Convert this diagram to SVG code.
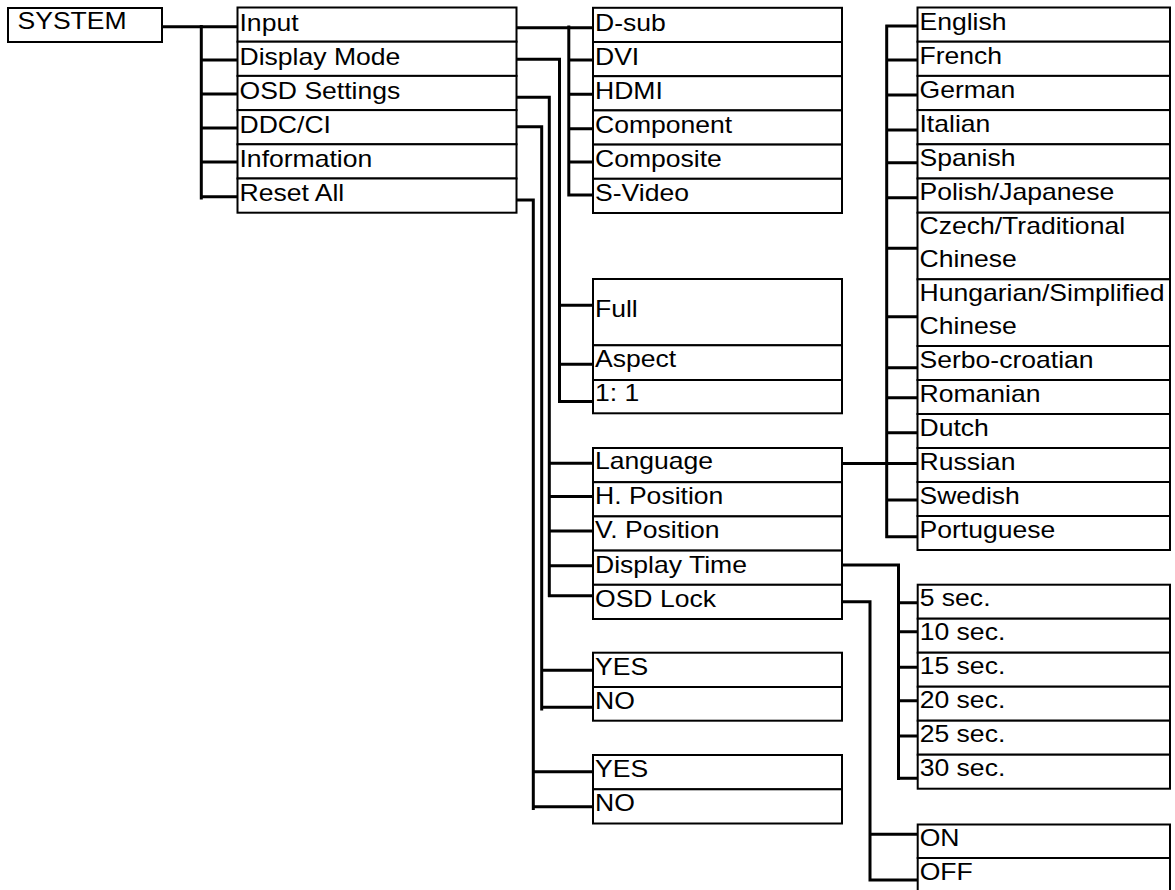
<svg xmlns="http://www.w3.org/2000/svg" width="1175" height="890" viewBox="0 0 1175 890">
<style>
.b{fill:#fff;stroke:#000;stroke-width:2}
.t{font-family:"Liberation Sans",Arial,sans-serif;font-size:23px;fill:#000;transform-box:fill-box;transform-origin:0 0;transform:scaleX(1.155)}
.c{fill:none;stroke:#000;stroke-width:3}
</style>
<rect width="1175" height="890" fill="#fff"/>
<g id="connectors" class="c">
<path d="M162 26.7H237.5M201.3 25V199.5M201.3 60H237.5M201.3 94H237.5M201.3 128H237.5M201.3 162H237.5M201.3 196.7H237.5"/>
<path d="M517 27.7H593M568.8 25.5V196.5M567.3 60H593M567.3 94.3H593M567.3 128.7H593M567.3 162H593M567.3 195H593"/>
<path d="M516 59.3H559.5V403M558 305.3H593M558 364.3H593M558 401.5H593"/>
<path d="M516 97.3H549.3V597M548 463.3H593M548 496.5H593M548 531H593M548 565.7H593M548 595.7H593"/>
<path d="M516 126.7H541.7V710.5M540.3 670.3H593M540.3 707.3H593"/>
<path d="M515 200H533.3V810M532 771.7H593M532 806.7H593"/>
<path d="M841 463.5H917.5M886.7 25V538M885.3 26H917.5M885.3 60H917.5M885.3 95H917.5M885.3 130H917.5M885.3 162.7H917.5M885.3 197.7H917.5M885.3 248.3H917.5M885.3 316.7H917.5M885.3 367.7H917.5M885.3 397.7H917.5M885.3 432.7H917.5M885.3 500H917.5M885.3 536.7H917.5"/>
<path d="M841 565H898.5V780M897 602.7H917.7M897 631.7H917.7M897 667.3H917.7M897 700.7H917.7M897 736H917.7M897 778.3H917.7"/>
<path d="M841 601.7H870V880H917.7M868.5 834.3H917.7"/>
</g>
<g id="system"><rect class="b" x="8" y="8" width="154" height="34"/><text class="t" x="17.5" y="29.3">SYSTEM</text></g>
<g id="input"><rect class="b" x="237.5" y="7.5" width="279" height="34.2"/><text class="t" x="239.5" y="31">Input</text></g>
<g id="display-mode"><rect class="b" x="237.5" y="41.7" width="279" height="34.2"/><text class="t" x="239.5" y="65">Display Mode</text></g>
<g id="osd-settings"><rect class="b" x="237.5" y="75.9" width="279" height="34.2"/><text class="t" x="239.5" y="99">OSD Settings</text></g>
<g id="ddc-ci"><rect class="b" x="237.5" y="110.1" width="279" height="34.2"/><text class="t" x="239.5" y="133">DDC/CI</text></g>
<g id="information"><rect class="b" x="237.5" y="144.3" width="279" height="34.2"/><text class="t" x="239.5" y="167">Information</text></g>
<g id="reset-all"><rect class="b" x="237.5" y="178.5" width="279" height="34.2"/><text class="t" x="239.5" y="201">Reset All</text></g>
<g id="d-sub"><rect class="b" x="593" y="7.8" width="249" height="34.2"/><text class="t" x="595" y="31.3">D-sub</text></g>
<g id="dvi"><rect class="b" x="593" y="42" width="249" height="34.2"/><text class="t" x="595" y="65.3">DVI</text></g>
<g id="hdmi"><rect class="b" x="593" y="76.2" width="249" height="34.2"/><text class="t" x="595" y="99.3">HDMI</text></g>
<g id="component"><rect class="b" x="593" y="110.4" width="249" height="34.2"/><text class="t" x="595" y="133.5">Component</text></g>
<g id="composite"><rect class="b" x="593" y="144.6" width="249" height="34.2"/><text class="t" x="595" y="167.5">Composite</text></g>
<g id="s-video"><rect class="b" x="593" y="178.8" width="249" height="34.2"/><text class="t" x="595" y="201.5">S-Video</text></g>
<g id="full"><rect class="b" x="593" y="279" width="249" height="66.3"/><text class="t" x="595" y="316.7">Full</text></g>
<g id="aspect"><rect class="b" x="593" y="345.3" width="249" height="34.7"/><text class="t" x="595" y="367">Aspect</text></g>
<g id="one-to-one"><rect class="b" x="593" y="380" width="249" height="33.3"/><text class="t" x="595" y="401">1: 1</text></g>
<g id="language"><rect class="b" x="593" y="448" width="249" height="34.2"/><text class="t" x="595" y="469.3">Language</text></g>
<g id="h-position"><rect class="b" x="593" y="482.2" width="249" height="34.2"/><text class="t" x="595" y="504">H. Position</text></g>
<g id="v-position"><rect class="b" x="593" y="516.4" width="249" height="34.2"/><text class="t" x="595" y="538.5">V. Position</text></g>
<g id="display-time"><rect class="b" x="593" y="550.6" width="249" height="34.2"/><text class="t" x="595" y="573">Display Time</text></g>
<g id="osd-lock"><rect class="b" x="593" y="584.8" width="249" height="34.2"/><text class="t" x="595" y="607">OSD Lock</text></g>
<g id="ddc-yes"><rect class="b" x="593" y="652.7" width="249" height="34.3"/><text class="t" x="595" y="675">YES</text></g>
<g id="ddc-no"><rect class="b" x="593" y="687" width="249" height="33.7"/><text class="t" x="595" y="709">NO</text></g>
<g id="reset-yes"><rect class="b" x="593" y="755" width="249" height="34.3"/><text class="t" x="595" y="777">YES</text></g>
<g id="reset-no"><rect class="b" x="593" y="789.3" width="249" height="34.2"/><text class="t" x="595" y="811">NO</text></g>
<g id="english"><rect class="b" x="917.5" y="7.5" width="252.5" height="34.2"/><text class="t" x="919.5" y="30.5">English</text></g>
<g id="french"><rect class="b" x="917.5" y="41.7" width="252.5" height="34.2"/><text class="t" x="919.5" y="64.5">French</text></g>
<g id="german"><rect class="b" x="917.5" y="75.9" width="252.5" height="34.2"/><text class="t" x="919.5" y="98.5">German</text></g>
<g id="italian"><rect class="b" x="917.5" y="110.1" width="252.5" height="34.2"/><text class="t" x="919.5" y="132.5">Italian</text></g>
<g id="spanish"><rect class="b" x="917.5" y="144.3" width="252.5" height="34.2"/><text class="t" x="919.5" y="166.5">Spanish</text></g>
<g id="polish"><rect class="b" x="917.5" y="178.5" width="252.5" height="34.2"/><text class="t" x="919.5" y="200.5">Polish/Japanese</text></g>
<g id="czech"><rect class="b" x="917.5" y="212.7" width="252.5" height="66.6"/><text class="t" x="919.5" y="234">Czech/Traditional</text><text class="t" x="919.5" y="267">Chinese</text></g>
<g id="hungarian"><rect class="b" x="917.5" y="279.3" width="252.5" height="66.7"/><text class="t" x="919.5" y="301.5">Hungarian/Simplified</text><text class="t" x="919.5" y="334">Chinese</text></g>
<g id="serbo-croatian"><rect class="b" x="917.5" y="346" width="252.5" height="34"/><text class="t" x="919.5" y="368">Serbo-croatian</text></g>
<g id="romanian"><rect class="b" x="917.5" y="380" width="252.5" height="34"/><text class="t" x="919.5" y="402">Romanian</text></g>
<g id="dutch"><rect class="b" x="917.5" y="414" width="252.5" height="34"/><text class="t" x="919.5" y="436">Dutch</text></g>
<g id="russian"><rect class="b" x="917.5" y="448" width="252.5" height="34"/><text class="t" x="919.5" y="470">Russian</text></g>
<g id="swedish"><rect class="b" x="917.5" y="482" width="252.5" height="34"/><text class="t" x="919.5" y="504">Swedish</text></g>
<g id="portuguese"><rect class="b" x="917.5" y="516" width="252.5" height="34"/><text class="t" x="919.5" y="538">Portuguese</text></g>
<g id="sec5"><rect class="b" x="917.7" y="584.7" width="252.3" height="34"/><text class="t" x="919.7" y="606.5">5 sec.</text></g>
<g id="sec10"><rect class="b" x="917.7" y="618.7" width="252.3" height="34"/><text class="t" x="919.7" y="640.5">10 sec.</text></g>
<g id="sec15"><rect class="b" x="917.7" y="652.7" width="252.3" height="34"/><text class="t" x="919.7" y="674.5">15 sec.</text></g>
<g id="sec20"><rect class="b" x="917.7" y="686.7" width="252.3" height="34"/><text class="t" x="919.7" y="708.5">20 sec.</text></g>
<g id="sec25"><rect class="b" x="917.7" y="720.7" width="252.3" height="34"/><text class="t" x="919.7" y="742.5">25 sec.</text></g>
<g id="sec30"><rect class="b" x="917.7" y="754.7" width="252.3" height="34"/><text class="t" x="919.7" y="776.5">30 sec.</text></g>
<g id="on"><rect class="b" x="917.7" y="824.5" width="252.3" height="33.5"/><text class="t" x="919.7" y="846">ON</text></g>
<g id="off"><rect class="b" x="917.7" y="858" width="252.3" height="40"/><text class="t" x="919.7" y="880">OFF</text></g>
</svg>
